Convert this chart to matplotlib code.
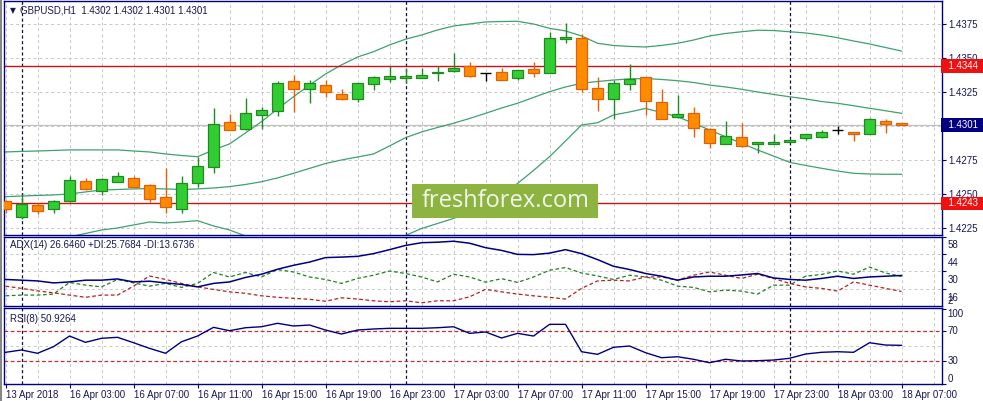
import matplotlib
matplotlib.use('Agg')
import matplotlib.pyplot as plt
import matplotlib.transforms as mtrans
from matplotlib.patches import Rectangle

plt.rcParams['font.family'] = ['Liberation Sans', 'DejaVu Sans']

# ---- data (GBPUSD H1, 13 Apr 23:00 .. 18 Apr 07:00) ----
bar_open = [1.42446, 1.42329, 1.42417, 1.42387, 1.42451, 1.42593, 1.42524, 1.42590, 1.42615, 1.42564,
            1.42476, 1.42392, 1.42583, 1.42696, 1.43027, 1.42976, 1.43083, 1.43108, 1.43329, 1.43270,
            1.43304, 1.43233, 1.43201, 1.43307, 1.43343, 1.43355, 1.43355, 1.43387, 1.43404, 1.43443,
            1.43387, 1.43395, 1.43355, 1.43417, 1.43392, 1.43638, 1.43645, 1.43277, 1.43201, 1.43307,
            1.43358, 1.43174, 1.43064, 1.43093, 1.42976, 1.42865, 1.42919, 1.42865, 1.42865, 1.42885,
            1.42910, 1.42921, 1.42971, 1.42954, 1.42939, 1.43037, 1.43020]
bar_high = [1.42455, 1.42500, 1.42432, 1.42456, 1.42632, 1.42618, 1.42620, 1.42662, 1.42632, 1.42570,
            1.42689, 1.42632, 1.42774, 1.43130, 1.43086, 1.43204, 1.43137, 1.43331, 1.43373, 1.43338,
            1.43338, 1.43270, 1.43316, 1.43368, 1.43443, 1.43429, 1.43424, 1.43443, 1.43535, 1.43471,
            1.43387, 1.43424, 1.43412, 1.43468, 1.43691, 1.43755, 1.43674, 1.43358, 1.43338, 1.43454,
            1.43362, 1.43270, 1.43226, 1.43142, 1.42983, 1.43037, 1.43020, 1.42884, 1.42941, 1.42900,
            1.42939, 1.42971, 1.43000, 1.42954, 1.43057, 1.43051, 1.43020]
bar_low = [1.42360, 1.42318, 1.42351, 1.42362, 1.42441, 1.42529, 1.42495, 1.42585, 1.42550, 1.42443,
           1.42362, 1.42362, 1.42554, 1.42657, 1.42968, 1.42968, 1.42976, 1.43076, 1.43105, 1.43167,
           1.43215, 1.43194, 1.43174, 1.43265, 1.43326, 1.43318, 1.43352, 1.43333, 1.43399, 1.43363,
           1.43333, 1.43338, 1.43338, 1.43363, 1.43387, 1.43608, 1.43252, 1.43113, 1.43049, 1.43265,
           1.43081, 1.43049, 1.43057, 1.42921, 1.42836, 1.42865, 1.42848, 1.42804, 1.42865, 1.42885,
           1.42897, 1.42910, 1.42941, 1.42892, 1.42939, 1.42951, 1.43010]
bar_close = [1.42392, 1.42426, 1.42377, 1.42446, 1.42605, 1.42535, 1.42608, 1.42630, 1.42554, 1.42465,
             1.42407, 1.42579, 1.42704, 1.43017, 1.42971, 1.43093, 1.43115, 1.43314, 1.43274, 1.43314,
             1.43248, 1.43196, 1.43314, 1.43358, 1.43365, 1.43365, 1.43373, 1.43397, 1.43424, 1.43368,
             1.43387, 1.43338, 1.43410, 1.43387, 1.43645, 1.43657, 1.43270, 1.43196, 1.43314, 1.43346,
             1.43186, 1.43051, 1.43086, 1.42983, 1.42877, 1.42926, 1.42853, 1.42882, 1.42882, 1.42895,
             1.42939, 1.42954, 1.42971, 1.42941, 1.43051, 1.43017, 1.43010]

bb_upper = [1.42809, 1.42813, 1.42816, 1.42820, 1.42824, 1.42824, 1.42824, 1.42824, 1.42816, 1.42809,
            1.42794, 1.42783, 1.42774, 1.42824, 1.42868, 1.42949, 1.43032, 1.43125, 1.43215, 1.43301,
            1.43382, 1.43449, 1.43507, 1.43546, 1.43596, 1.43638, 1.43669, 1.43706, 1.43735, 1.43750,
            1.43765, 1.43768, 1.43770, 1.43750, 1.43718, 1.43699, 1.43662, 1.43608, 1.43592, 1.43585,
            1.43581, 1.43592, 1.43608, 1.43632, 1.43662, 1.43680, 1.43693, 1.43704, 1.43702, 1.43693,
            1.43684, 1.43669, 1.43649, 1.43625, 1.43603, 1.43577, 1.43551]
bb_middle = [1.42480, 1.42485, 1.42489, 1.42493, 1.42500, 1.42515, 1.42529, 1.42533, 1.42537, 1.42540,
             1.42537, 1.42533, 1.42537, 1.42544, 1.42554, 1.42570, 1.42590, 1.42618, 1.42652, 1.42688,
             1.42724, 1.42750, 1.42772, 1.42794, 1.42853, 1.42914, 1.42956, 1.42989, 1.43020, 1.43055,
             1.43093, 1.43132, 1.43167, 1.43210, 1.43252, 1.43287, 1.43314, 1.43327, 1.43338, 1.43346,
             1.43349, 1.43342, 1.43333, 1.43320, 1.43301, 1.43287, 1.43270, 1.43250, 1.43232, 1.43215,
             1.43199, 1.43180, 1.43167, 1.43149, 1.43130, 1.43112, 1.43093]
bb_lower = [1.42154, 1.42158, 1.42162, 1.42169, 1.42184, 1.42210, 1.42235, 1.42250, 1.42272, 1.42294,
            1.42287, 1.42294, 1.42304, 1.42265, 1.42235, 1.42191, 1.42149, 1.42110, 1.42088, 1.42074,
            1.42066, 1.42051, 1.42037, 1.42044, 1.42110, 1.42195, 1.42246, 1.42283, 1.42320, 1.42368,
            1.42426, 1.42500, 1.42577, 1.42673, 1.42774, 1.42890, 1.43007, 1.43024, 1.43081, 1.43103,
            1.43129, 1.43099, 1.43068, 1.43020, 1.42971, 1.42921, 1.42873, 1.42824, 1.42779, 1.42733,
            1.42710, 1.42689, 1.42669, 1.42652, 1.42647, 1.42645, 1.42645]

adx = [23.4, 22.8, 22.2, 20.6, 21.4, 22.8, 22.8, 23.8, 21.4, 22.0,
       20.6, 19.4, 17.4, 20.2, 21.4, 25.0, 27.6, 31.6, 34.8, 37.4,
       41.0, 41.4, 42.0, 44.2, 47.4, 50.8, 53.0, 53.4, 54.2, 52.6,
       49.0, 46.8, 43.6, 43.4, 44.6, 47.4, 44.2, 39.4, 34.0, 31.4,
       28.2, 26.0, 22.8, 25.4, 26.0, 26.0, 27.0, 28.2, 24.6, 23.4,
       22.8, 24.2, 26.0, 24.2, 25.4, 26.0, 26.6]
plus_di = [10.2, 10.8, 10.8, 11.6, 21.0, 18.8, 17.4, 23.4, 20.6, 18.0,
           20.2, 17.0, 20.2, 29.0, 25.4, 29.0, 25.4, 31.4, 29.4, 25.4,
           23.4, 20.2, 24.2, 26.8, 30.2, 28.2, 25.4, 21.4, 27.6, 25.4,
           21.2, 24.0, 21.0, 25.4, 30.8, 33.0, 28.6, 26.2, 23.4, 26.8,
           25.4, 22.8, 18.0, 17.0, 13.4, 14.8, 14.0, 11.6, 18.8, 18.8,
           26.0, 27.4, 30.2, 27.6, 33.4, 28.6, 25.8]
minus_di = [18.0, 16.2, 14.2, 12.6, 10.8, 9.0, 10.8, 10.8, 18.0, 26.2,
            23.4, 20.2, 17.4, 15.4, 13.4, 12.2, 10.2, 9.0, 8.2, 7.4,
            5.8, 8.6, 7.6, 6.2, 5.4, 6.2, 4.6, 6.2, 6.2, 9.4,
            15.4, 13.4, 11.6, 10.2, 9.0, 7.6, 16.2, 22.2, 22.8, 22.2,
            25.4, 25.4, 22.8, 26.8, 29.4, 26.8, 24.2, 27.6, 24.2, 20.2,
            17.4, 16.2, 14.0, 21.4, 18.8, 16.2, 13.7]
rsi = [41.6, 44.7, 40.3, 49.1, 63.3, 54.9, 60.3, 61.6, 54.4, 46.9,
       40.3, 55.7, 63.3, 74.9, 70.4, 74.4, 75.7, 80.3, 76.7, 78.0,
       71.3, 66.0, 71.3, 72.7, 73.6, 73.6, 73.6, 74.4, 75.7, 66.9,
       68.7, 60.7, 66.9, 63.3, 78.9, 78.9, 42.4, 38.9, 48.3, 50.0,
       41.1, 34.4, 35.7, 32.3, 27.7, 32.3, 30.0, 30.4, 31.3, 33.6,
       39.3, 41.6, 42.4, 41.6, 54.4, 51.3, 50.9]

time_labels = ['13 Apr 2018', '16 Apr 03:00', '16 Apr 07:00', '16 Apr 11:00', '16 Apr 15:00',
               '16 Apr 19:00', '16 Apr 23:00', '17 Apr 03:00', '17 Apr 07:00', '17 Apr 11:00',
               '17 Apr 15:00', '17 Apr 19:00', '17 Apr 23:00', '18 Apr 03:00', '18 Apr 07:00']
day_starts = [1, 25, 49]          # 16, 17, 18 Apr 00:00
price_levels = [1.4225, 1.4250, 1.4275, 1.4300, 1.4325, 1.4350, 1.4375]
resistance = 1.4344
support = 1.4243
last_price = 1.4301
adx_levels = [58, 44, 30, 16]
rsi_levels = [70, 30]

# ---- colours ----
NAVY = '#000080'
TXT = '#18184f'
GRID = '#c8c8c8'
BULL = '#32cd32'
BULL_EDGE = '#1f8a1f'
BEAR = '#ff8c00'
BEAR_EDGE = '#e0600a'
BAND = '#3fa070'
FS = 7.0

W, H = 983, 401
fig = plt.figure(figsize=(W / 100, H / 100), dpi=100)
fig.patch.set_facecolor('white')

X0, X1 = 4, 941.7


def panel(top, bottom):
    return fig.add_axes([X0 / W, 1 - bottom / H, (X1 - X0) / W, (bottom - top) / H])


ax = panel(1, 234.5)
ax_adx = panel(236.5, 305.5)
ax_rsi = panel(308, 383.5)

n = len(bar_open)
idx = list(range(n))
xlim = (-0.094, 58.51)

for a in (ax, ax_adx, ax_rsi):
    a.set_xlim(*xlim)
    a.set_facecolor('white')
    for s in a.spines.values():
        s.set_color(NAVY)
        s.set_linewidth(1.0)
    for i in range(0, 59, 2):
        a.axvline(i, color=GRID, lw=0.7, ls=(0, (3, 3)), zorder=0)
    for d in day_starts:
        a.axvline(d, color='#10103a', lw=0.9, ls=(0, (2.5, 2)), zorder=1)
    a.yaxis.tick_right()
    a.tick_params(axis='y', direction='out', length=3, colors=NAVY, labelcolor=TXT,
                  labelsize=FS, pad=2, width=0.8)
    a.set_xticks([])

# ---- main price panel ----
ax.set_ylim(1.42202, 1.43919)
for p in price_levels:
    ax.axhline(p, color=GRID, lw=0.7, ls=(0, (3, 3)), zorder=0)
ax.set_yticks(price_levels)
# 1.4300 sits under the last-price box, so it's left blank
ax.set_yticklabels(['' if p == 1.4300 else '%.4f' % p for p in price_levels])

ax.plot(idx, bb_upper, color=BAND, lw=0.9, zorder=2)
ax.plot(idx, bb_middle, color=BAND, lw=0.9, zorder=2)
ax.plot(idx, bb_lower, color=BAND, lw=0.9, zorder=2)

ax.axhline(resistance, color='#c81414', lw=1.0, zorder=2)
ax.axhline(support, color='#c81414', lw=1.0, zorder=2)
ax.axhline(last_price, color='#c0c0c0', lw=0.9, zorder=1)

body_w = 0.64
for i in idx:
    o, h, l, c = bar_open[i], bar_high[i], bar_low[i], bar_close[i]
    if c > o:
        fc, ec = BULL, BULL_EDGE
    elif c < o:
        fc, ec = BEAR, BEAR_EDGE
    else:
        fc, ec = 'black', 'black'
    ax.vlines(i, l, h, color=ec, lw=1.0, zorder=3)
    if c == o:
        ax.hlines(o, i - body_w / 2, i + body_w / 2, color='black', lw=1.0, zorder=4)
    else:
        ax.bar(i, abs(c - o), bottom=min(o, c), width=body_w, color=fc,
               edgecolor=ec, linewidth=0.9, zorder=4)

trans = mtrans.blended_transform_factory(ax.transAxes, ax.transData)
for val, col in ((resistance, '#f01010'), (support, '#f01010'), (last_price, NAVY)):
    ax.text(1.0015, val, '  %.4f ' % val, transform=trans, ha='left', va='center',
            color='white', fontsize=FS, clip_on=False, zorder=10,
            bbox=dict(boxstyle='square,pad=0.2', fc=col, ec='none'))

ax.text(0.006, 0.958, '\u25bc', transform=ax.transAxes, fontsize=5.5, color=TXT,
        va='center', ha='left', family=['DejaVu Sans'])
ax.text(0.017, 0.958, 'GBPUSD,H1  1.4302 1.4302 1.4301 1.4301', transform=ax.transAxes,
        fontsize=FS, color=TXT, va='center', ha='left')

# ---- ADX panel ----
ax_adx.set_ylim(2.4, 57.6)
for lv in [44, 30, 16]:
    ax_adx.axhline(lv, color=GRID, lw=0.7, ls=(0, (3, 3)), zorder=0)
ax_adx.set_yticks(adx_levels)
ax_adx.set_yticklabels([])
ax_adx.plot(idx, plus_di, color='#1f801f', lw=0.9, ls=(0, (3, 2)), zorder=2)
ax_adx.plot(idx, minus_di, color='#b42222', lw=0.9, ls=(0, (3, 2)), zorder=2)
ax_adx.plot(idx, adx, color=NAVY, lw=1.1, zorder=3)
tr_adx = mtrans.blended_transform_factory(ax_adx.transAxes, ax_adx.transData)
for lv in adx_levels:
    lab_tr = mtrans.offset_copy(tr_adx, fig=fig, x=0, y=-9, units='dots')
    ax_adx.text(1.006, lv, str(lv), transform=lab_tr, ha='left', va='center',
                fontsize=FS, color=TXT, clip_on=False)
ax_adx.text(1.006, 0.0, '2', transform=ax_adx.transAxes, ha='left', va='bottom',
            fontsize=FS, color=TXT, clip_on=False)
ax_adx.text(0.006, 0.87, 'ADX(14) 26.6460 +DI:25.7684 -DI:13.6736', transform=ax_adx.transAxes,
            fontsize=FS, color=TXT, va='center', ha='left')

# ---- RSI panel ----
ax_rsi.set_ylim(0, 100.7)
ax_rsi.axhline(50, color=GRID, lw=0.7, ls=(0, (3, 3)), zorder=0)
for lv in rsi_levels:
    ax_rsi.axhline(lv, color='#c03030', lw=0.9, ls=(0, (3, 2)), zorder=1)
ax_rsi.plot(idx, rsi, color=NAVY, lw=1.0, zorder=3)
ax_rsi.set_yticks([0, 30, 70, 100])
ax_rsi.set_yticklabels([])
tr_rsi = mtrans.blended_transform_factory(ax_rsi.transAxes, ax_rsi.transData)
ax_rsi.text(1.006, 100, '100', transform=tr_rsi, ha='left', va='top', fontsize=FS, color=TXT, clip_on=False)
ax_rsi.text(1.006, 70, '70', transform=tr_rsi, ha='left', va='center', fontsize=FS, color=TXT, clip_on=False)
ax_rsi.text(1.006, 30, '30', transform=tr_rsi, ha='left', va='center', fontsize=FS, color=TXT, clip_on=False)
ax_rsi.text(1.006, 0, '0', transform=tr_rsi, ha='left', va='bottom', fontsize=FS, color=TXT, clip_on=False)
ax_rsi.text(0.006, 0.86, 'RSI(8) 50.9264', transform=ax_rsi.transAxes,
            fontsize=FS, color=TXT, va='center', ha='left')

ax_rsi.set_xticks(list(range(0, 57, 4)))
ax_rsi.set_xticklabels(time_labels, ha='left')
ax_rsi.tick_params(axis='x', direction='out', length=3, colors=NAVY, labelcolor=TXT,
                   labelsize=FS, pad=2, width=0.8)

# ---- watermark ----
fig.patches.append(Rectangle((412.3 / W, 1 - 217.7 / H), 186 / W, 33.7 / H,
                             transform=fig.transFigure, fc='#8db340', ec='none', zorder=20))
fig.text(505.3 / W, 1 - 201 / H, 'freshforex.com', ha='center', va='center',
         fontsize=17, color='#f4f7ec', family=['Open Sans', 'DejaVu Sans'], zorder=21)

# window frame on the left
fig.add_artist(plt.Line2D([0.6 / W, 0.6 / W], [0, 1], transform=fig.transFigure,
                          color='#707070', lw=1.2))

fig.savefig('out.png', dpi=100)
